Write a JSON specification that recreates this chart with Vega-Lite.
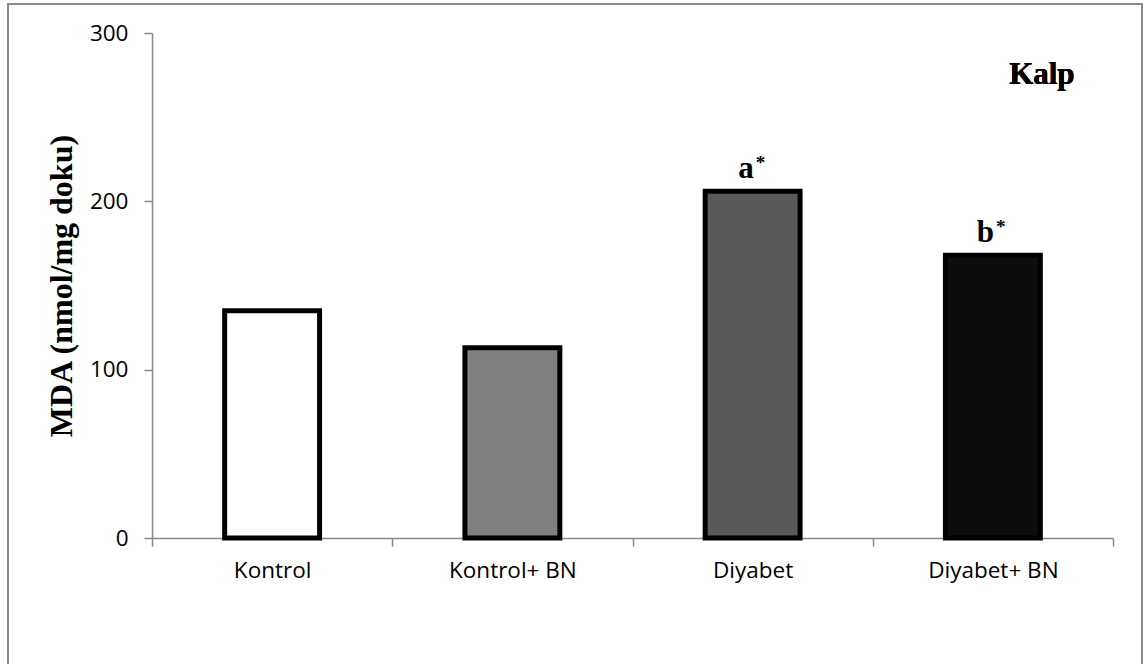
{
  "$schema": "https://vega.github.io/schema/vega-lite/v6.json",
  "width": 961,
  "height": 505,
  "autosize": {"type": "none"},
  "padding": {"left": 152, "top": 33, "right": 31, "bottom": 126},
  "background": "white",
  "config": {"view": {"stroke": null}},
  "data": {
    "values": [
      {"group": "Kontrol", "value": 135, "sig": ""},
      {"group": "Kontrol+ BN", "value": 113, "sig": ""},
      {"group": "Diyabet", "value": 206, "sig": "a"},
      {"group": "Diyabet+ BN", "value": 168, "sig": "b"}
    ]
  },
  "layer": [
    {
      "mark": {"type": "rect", "fill": null, "stroke": "#8a8a8a", "strokeWidth": 1.5, "clip": false},
      "encoding": {
        "x": {"datum": -0.1498, "type": "quantitative", "scale": {"domain": [0, 1], "nice": false, "zero": false}, "axis": null},
        "x2": {"datum": 1.0302},
        "y": {"datum": 317.2, "type": "quantitative", "scale": {"domain": [0, 300], "nice": false}},
        "y2": {"datum": -90}
      }
    },
    {
      "layer": [
        {
          "mark": {"type": "bar", "stroke": "black", "strokeWidth": 5, "width": {"band": 0.395}},
          "encoding": {
            "x": {
              "field": "group", "type": "nominal", "sort": null,
              "scale": {"paddingInner": 0, "paddingOuter": 0},
              "axis": {
                "title": null, "labelAngle": 0, "labelFont": "Open Sans", "labelFontSize": 22.5,
                "labelColor": "black", "domainColor": "#888888", "domainWidth": 1.5,
                "tickColor": "#888888", "tickWidth": 1.5, "tickSize": 8, "tickBand": "extent",
                "labelPadding": 13
              }
            },
            "y": {
              "field": "value", "type": "quantitative",
              "scale": {"domain": [0, 300], "nice": false},
              "axis": {
                "values": [0, 100, 200, 300], "grid": false,
                "title": "MDA (nmol/mg doku)", "titleFont": "Liberation Serif", "titleFontWeight": "bold",
                "titleFontSize": 32, "titleColor": "black", "titlePadding": 11,
                "labelFont": "Open Sans", "labelFontSize": 22.5, "labelColor": "black", "labelPadding": 16,
                "domainColor": "#888888", "domainWidth": 1.5, "tickColor": "#888888", "tickWidth": 1.5, "tickSize": 8
              }
            },
            "fill": {
              "field": "group", "type": "nominal", "sort": null,
              "scale": {"domain": ["Kontrol", "Kontrol+ BN", "Diyabet", "Diyabet+ BN"], "range": ["#ffffff", "#808080", "#595959", "#0d0d0d"]},
              "legend": null
            }
          }
        },
        {
          "transform": [{"filter": "datum.sig != ''"}],
          "mark": {"type": "text", "align": "right", "baseline": "alphabetic", "dx": 1, "dy": -13, "font": "Liberation Serif", "fontWeight": "bold", "fontSize": 31, "color": "black"},
          "encoding": {
            "x": {"field": "group", "type": "nominal", "sort": null},
            "y": {"field": "value", "type": "quantitative"},
            "text": {"field": "sig"}
          }
        },
        {
          "transform": [{"filter": "datum.sig != ''"}],
          "mark": {"type": "text", "align": "left", "baseline": "alphabetic", "dx": 3, "dy": -22, "font": "Liberation Serif", "fontWeight": "bold", "fontSize": 19, "color": "black", "text": "*"},
          "encoding": {
            "x": {"field": "group", "type": "nominal", "sort": null},
            "y": {"field": "value", "type": "quantitative"}
          }
        },
        {
          "mark": {"type": "text", "align": "center", "baseline": "alphabetic", "dx": 49, "font": "Liberation Serif", "fontWeight": "bold", "fontSize": 31, "color": "black", "text": "Kalp"},
          "encoding": {
            "x": {"datum": "Diyabet+ BN", "type": "nominal"},
            "y": {"datum": 270, "type": "quantitative"}
          }
        }
      ]
    }
  ],
  "resolve": {"scale": {"x": "independent"}, "axis": {"x": "independent"}}
}
